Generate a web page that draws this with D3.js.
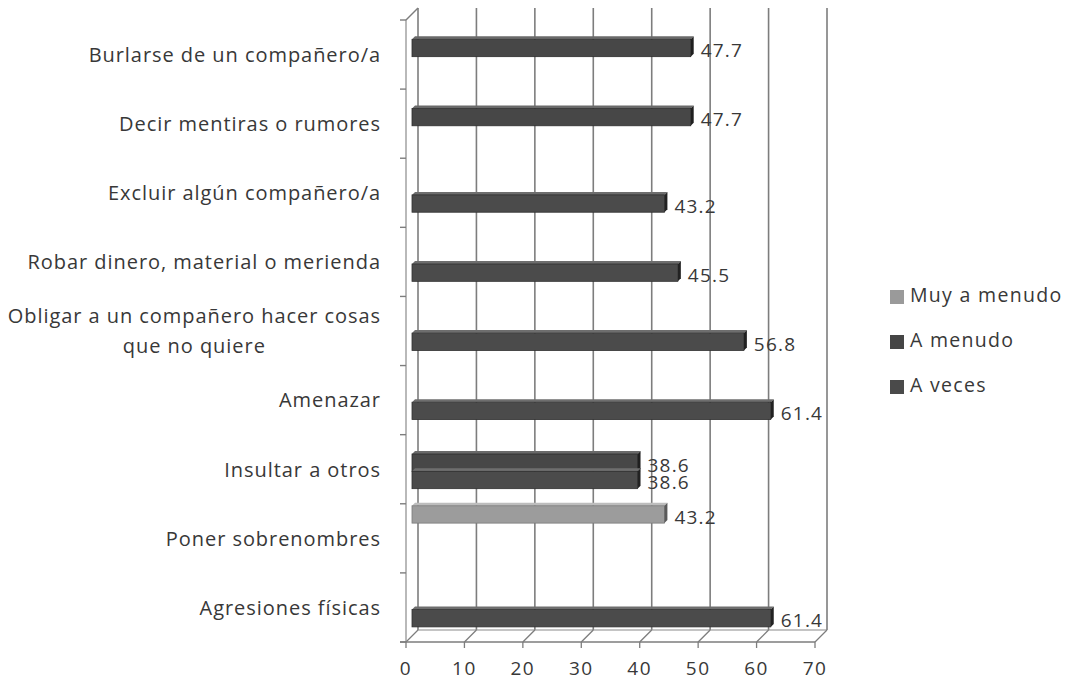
<!DOCTYPE html>
<html><head><meta charset="utf-8">
<script src="https://cdn.jsdelivr.net/npm/d3@7"></script>
<style>html,body{margin:0;padding:0;background:#fff;}svg{display:block;}</style>
</head><body>
<svg id="chart" width="1076" height="687"></svg>
<script>
// ---- data ----
const categories = [
  "Agresiones físicas",
  "Poner sobrenombres",
  "Insultar a otros",
  "Amenazar",
  "Obligar a un compañero hacer cosas|que no quiere",
  "Robar dinero, material o merienda",
  "Excluir algún compañero/a",
  "Decir mentiras o rumores",
  "Burlarse de un compañero/a"
];
const seriesNames = ["Muy a menudo", "A menudo", "A veces"];
const muyAMenudo = [null, 43.2, null, null, null, null, null, null, null];
const aMenudo    = [null, null, 38.6, null, null, null, null, 47.7, 47.7];
const aVeces     = [61.4, null, 38.6, 61.4, 56.8, 45.5, 43.2, null, null];
const xTicks = [0, 10, 20, 30, 40, 50, 60, 70];

const seriesValues = [muyAMenudo, aMenudo, aVeces];
const colors = [
  {front:"#9c9c9c", top:"#bdbdbd", cap:"#5a5a5a", stroke:"#7a7a7a", legend:"#9a9a9a"},
  {front:"#474747", top:"#6a6a6a", cap:"#1f1f1f", stroke:"#2e2e2e", legend:"#454545"},
  {front:"#4b4b4b", top:"#6e6e6e", cap:"#222222", stroke:"#303030", legend:"#4a4a4a"}
];

const svg = d3.select("#chart");
const font = "'Open Sans', Lato, sans-serif";
const textCol = "#383838";

// ---- scales ----
const DX = 12, DY = -12;             // 3D depth offset
const xFront = d3.scaleLinear().domain([0, 70]).range([406, 815]);
const xMid = v => xFront(v) + DX / 2;
const yBand = d3.scaleBand().domain(d3.range(categories.length).reverse()).range([20, 642]).paddingInner(0).paddingOuter(0);
const ySub = d3.scaleBand().domain(d3.range(seriesNames.length)).range([2, 54]).padding(0);

const floorY = 642;
const wallTop = 20;

// ---- back wall gridlines ----
const g = svg.append("g");
g.selectAll("line.grid").data(xTicks).join("line")
  .attr("x1", d => xFront(d) + DX).attr("x2", d => xFront(d) + DX)
  .attr("y1", wallTop + DY).attr("y2", floorY + DY)
  .attr("stroke", "#7d7d7d").attr("stroke-width", 1.6);

g.append("line").attr("x1", xFront(0)).attr("x2", xFront(0))
  .attr("y1", wallTop).attr("y2", floorY).attr("stroke", "#a8a8a8").attr("stroke-width", 1.6);
g.append("line").attr("x1", xFront(0)).attr("y1", wallTop).attr("x2", xFront(0) + DX).attr("y2", wallTop + DY)
  .attr("stroke", "#7d7d7d").attr("stroke-width", 1.4);
const bounds = d3.range(categories.length + 1).map(i => 20 + i * yBand.step());
g.selectAll("line.ctick").data(bounds).join("line")
  .attr("x1", xFront(0) - 6).attr("x2", xFront(0))
  .attr("y1", d => d).attr("y2", d => d)
  .attr("stroke", "#7d7d7d").attr("stroke-width", 1.4);

// floor
g.append("line").attr("x1", xFront(0) - 6).attr("x2", xFront(70)).attr("y1", floorY).attr("y2", floorY)
  .attr("stroke", "#7d7d7d").attr("stroke-width", 1.4);
g.append("line").attr("x1", xFront(0) + DX).attr("x2", xFront(70) + DX).attr("y1", floorY + DY).attr("y2", floorY + DY)
  .attr("stroke", "#8a8a8a").attr("stroke-width", 1.2);
g.selectAll("line.fdiag").data(xTicks).join("line")
  .attr("x1", d => xFront(d)).attr("y1", floorY)
  .attr("x2", d => xFront(d) + DX).attr("y2", floorY + DY)
  .attr("stroke", "#7d7d7d").attr("stroke-width", 1.3);
g.selectAll("line.xtick").data(xTicks).join("line")
  .attr("x1", d => xFront(d)).attr("x2", d => xFront(d))
  .attr("y1", floorY).attr("y2", floorY + 6)
  .attr("stroke", "#7d7d7d").attr("stroke-width", 1.3);

// x tick labels
g.selectAll("text.xl").data(xTicks).join("text")
  .attr("x", d => xFront(d)).attr("y", 670)
  .attr("text-anchor", "middle").attr("dominant-baseline", "middle")
  .attr("font-family", font).attr("font-size", 19).attr("letter-spacing", 1.5).attr("fill", textCol)
  .text(d => d);

// category labels
categories.forEach((c, i) => {
  const lines = c.split("|");
  const cy = yBand(i) + yBand.bandwidth() / 2 + 2;
  const lh = 30;
  const t = svg.append("text").attr("text-anchor", "end")
    .attr("font-family", font).attr("font-size", 20).attr("letter-spacing", 0.95).attr("fill", textCol);
  lines.forEach((l, k) => {
    const yy = cy + (k - (lines.length - 1) / 2) * lh;
    t.append("tspan").attr("x", 381).attr("y", yy).attr("dominant-baseline", "middle").text(l);
  });
  if (lines.length > 1) {
    const tsp = t.selectAll("tspan").nodes();
    const w0 = tsp[0].getComputedTextLength();
    d3.select(tsp[1]).attr("text-anchor", "middle").attr("x", 381 - w0 / 2);
  }
});

// ---- bars ----
const CAP = 3;
seriesValues.forEach((vals, s) => {
  const col = colors[s];
  const bg = svg.append("g");
  vals.forEach((v, i) => {
    if (v == null) return;
    const y0 = yBand(i) + ySub(s);
    const h = ySub.bandwidth();
    const x0 = xMid(0), x1 = xMid(v);
    bg.append("polygon")
      .attr("points", [[x0, y0], [x1, y0], [x1 + CAP, y0 - CAP], [x0 + CAP, y0 - CAP]].map(p => p.join(",")).join(" "))
      .attr("fill", col.top);
    bg.append("rect").attr("x", x0).attr("y", y0).attr("width", x1 - x0).attr("height", h)
      .attr("fill", col.front).attr("stroke", col.stroke).attr("stroke-width", 0.8);
    bg.append("polygon")
      .attr("points", [[x1, y0], [x1 + CAP, y0 - CAP], [x1 + CAP, y0 + h - CAP], [x1, y0 + h]].map(p => p.join(",")).join(" "))
      .attr("fill", col.cap);
    bg.append("text").attr("x", x1 + 10).attr("y", y0 + h / 2 + 4)
      .attr("dominant-baseline", "middle")
      .attr("font-family", font).attr("font-size", 19).attr("letter-spacing", 1.2).attr("fill", textCol)
      .text(d3.format(".1f")(v));
  });
});

// ---- legend ----
const lg = svg.append("g");
seriesNames.forEach((n, k) => {
  const yy = 297 + k * 45;
  lg.append("rect").attr("x", 890).attr("y", yy - 7).attr("width", 14).attr("height", 14)
    .attr("fill", colors[k].legend);
  lg.append("text").attr("x", 910).attr("y", yy).attr("dominant-baseline", "middle")
    .attr("font-family", font).attr("font-size", 19.5).attr("letter-spacing", 1.3).attr("fill", textCol).text(n);
});
</script>
</body></html>
